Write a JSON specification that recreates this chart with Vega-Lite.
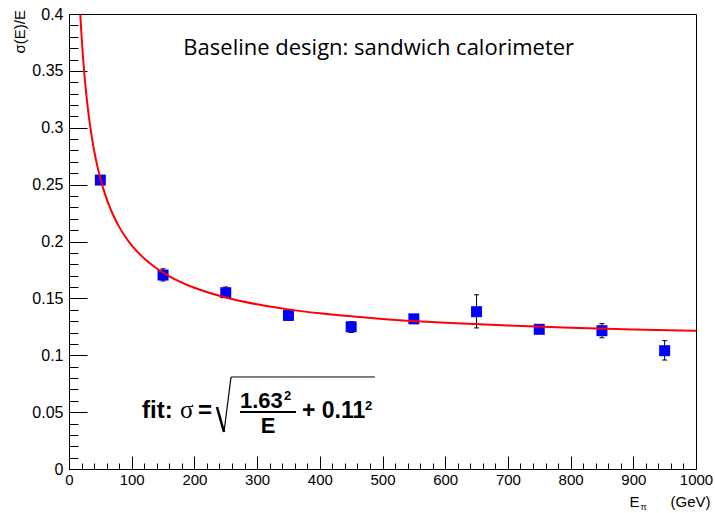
{
  "$schema": "https://vega.github.io/schema/vega-lite/v6.json",
  "width": 627,
  "height": 455,
  "autosize": "none",
  "padding": {"left": 69, "top": 14, "right": 19, "bottom": 44},
  "background": "white",
  "config": {"view": {"stroke": "black", "strokeWidth": 1}},
  "datasets": {
    "pts": [
      {"E": 50, "s": 0.254, "lo": 0.251, "hi": 0.257},
      {"E": 150, "s": 0.1705, "lo": 0.1653, "hi": 0.176},
      {"E": 250, "s": 0.155, "lo": 0.151, "hi": 0.160},
      {"E": 350, "s": 0.135, "lo": 0.131, "hi": 0.138},
      {"E": 450, "s": 0.125, "lo": 0.12, "hi": 0.1295},
      {"E": 550, "s": 0.132, "lo": 0.129, "hi": 0.135},
      {"E": 650, "s": 0.1383, "lo": 0.124, "hi": 0.1532},
      {"E": 750, "s": 0.1228, "lo": 0.120, "hi": 0.1255},
      {"E": 850, "s": 0.1216, "lo": 0.1154, "hi": 0.1278},
      {"E": 950, "s": 0.104, "lo": 0.0958, "hi": 0.1128}
    ],
    "fit": [
      {"E": 18, "f": 0.39963}, {"E": 20, "f": 0.38072}, {"E": 22, "f": 0.36451},
      {"E": 25, "f": 0.34406}, {"E": 28, "f": 0.32709}, {"E": 32, "f": 0.30843},
      {"E": 36, "f": 0.29309}, {"E": 40, "f": 0.28022}, {"E": 45, "f": 0.26673},
      {"E": 50, "f": 0.25542}, {"E": 60, "f": 0.23745}, {"E": 70, "f": 0.22373},
      {"E": 80, "f": 0.21286}, {"E": 90, "f": 0.20401}, {"E": 100, "f": 0.19665},
      {"E": 120, "f": 0.18504}, {"E": 140, "f": 0.17629}, {"E": 160, "f": 0.16943},
      {"E": 180, "f": 0.16389}, {"E": 200, "f": 0.15933}, {"E": 250, "f": 0.15076},
      {"E": 300, "f": 0.14476}, {"E": 350, "f": 0.14033}, {"E": 400, "f": 0.13690},
      {"E": 450, "f": 0.13418}, {"E": 500, "f": 0.13196}, {"E": 600, "f": 0.12856},
      {"E": 700, "f": 0.12608}, {"E": 800, "f": 0.12418}, {"E": 900, "f": 0.12269},
      {"E": 1000, "f": 0.12148}
    ],
    "one": [{}]
  },
  "resolve": {"axis": {"x": "independent", "y": "independent"}},
  "layer": [
    {
      "data": {"name": "pts"},
      "mark": {"type": "rule", "color": "black", "strokeWidth": 1},
      "encoding": {
        "x": {"field": "E", "type": "quantitative",
          "scale": {"domain": [0, 1000], "nice": false, "zero": false},
          "axis": {"orient": "bottom", "values": [0,100,200,300,400,500,600,700,800,900,1000],
            "domain": false, "grid": false, "ticks": true, "tickSize": -13, "tickColor": "black", "tickWidth": 1,
            "labels": true, "labelFont": "Liberation Sans", "labelFontSize": 15, "labelColor": "black",
            "labelPadding": 16, "labelFlush": false, "labelOverlap": false, "format": "d",
            "title": "(GeV)", "titleFont": "Liberation Sans", "titleFontSize": 15, "titleFontWeight": "normal",
            "titleColor": "black", "titleAlign": "right", "titleAnchor": null, "titleX": 641, "titleY": 37, "titleBaseline": "alphabetic"}},
        "y": {"field": "lo", "type": "quantitative",
          "scale": {"domain": [0, 0.4], "nice": false, "zero": false},
          "axis": {"orient": "left", "values": [0,0.05,0.1,0.15,0.2,0.25,0.3,0.35,0.4],
            "domain": false, "grid": false, "ticks": true, "tickSize": -18, "tickColor": "black", "tickWidth": 1,
            "labels": true, "labelFont": "Liberation Sans", "labelFontSize": 16, "labelColor": "black",
            "labelPadding": 24, "labelFlush": false, "labelOverlap": false, "format": "~g",
            "title": null}},
        "y2": {"field": "hi"}
      }
    },
    {
      "data": {"name": "pts"},
      "mark": {"type": "point", "shape": "M-1,0L1,0", "size": 25, "filled": false, "stroke": "black", "strokeWidth": 1, "opacity": 1},
      "encoding": {
        "x": {"field": "E", "type": "quantitative", "axis": null},
        "y": {"field": "lo", "type": "quantitative", "axis": null}
      }
    },
    {
      "data": {"name": "pts"},
      "mark": {"type": "point", "shape": "M-1,0L1,0", "size": 25, "filled": false, "stroke": "black", "strokeWidth": 1, "opacity": 1},
      "encoding": {
        "x": {"field": "E", "type": "quantitative", "axis": null},
        "y": {"field": "hi", "type": "quantitative", "axis": null}
      }
    },
    {
      "data": {"name": "pts"},
      "mark": {"type": "square", "size": 121, "color": "#0000ff", "opacity": 1},
      "encoding": {
        "x": {"field": "E", "type": "quantitative",
          "axis": {"orient": "bottom", "values": [0,20,40,60,80,100,120,140,160,180,200,220,240,260,280,300,320,340,360,380,400,420,440,460,480,500,520,540,560,580,600,620,640,660,680,700,720,740,760,780,800,820,840,860,880,900,920,940,960,980,1000],
            "domain": false, "grid": false, "ticks": true, "tickSize": -6, "tickColor": "black", "tickWidth": 1,
            "labels": false,
            "title": "E", "titleFont": "Liberation Sans", "titleFontSize": 15, "titleFontWeight": "normal",
            "titleColor": "black", "titleAlign": "right", "titleAnchor": null, "titleX": 570, "titleY": 37, "titleBaseline": "alphabetic"}},
        "y": {"field": "s", "type": "quantitative",
          "axis": {"orient": "left", "values": [0,0.01,0.02,0.03,0.04,0.05,0.06,0.07,0.08,0.09,0.1,0.11,0.12,0.13,0.14,0.15,0.16,0.17,0.18,0.19,0.2,0.21,0.22,0.23,0.24,0.25,0.26,0.27,0.28,0.29,0.3,0.31,0.32,0.33,0.34,0.35,0.36,0.37,0.38,0.39,0.4],
            "domain": false, "grid": false, "ticks": true, "tickSize": -9, "tickColor": "black", "tickWidth": 1,
            "labels": false, "title": null}}
      }
    },
    {
      "data": {"name": "fit"},
      "mark": {"type": "line", "color": "#ff0000", "strokeWidth": 2, "interpolate": "monotone"},
      "encoding": {
        "x": {"field": "E", "type": "quantitative",
          "axis": {"orient": "bottom", "domain": false, "grid": false, "ticks": false, "labels": false,
            "title": "π", "titleFont": "Liberation Sans", "titleFontSize": 9, "titleFontWeight": "normal",
            "titleColor": "black", "titleAlign": "left", "titleAnchor": null, "titleX": 571, "titleY": 40, "titleBaseline": "alphabetic"}},
        "y": {"field": "f", "type": "quantitative", "axis": null}
      }
    },
    {
      "data": {"name": "one"},
      "mark": {"type": "text", "font": "Liberation Sans", "fontSize": 15, "angle": 270, "align": "right", "baseline": "alphabetic", "color": "black"},
      "encoding": {
        "x": {"datum": -70.2, "type": "quantitative", "axis": null},
        "y": {"datum": 0.4035, "type": "quantitative", "axis": null},
        "text": {"value": "σ(E)/E"}
      }
    },
    {
      "data": {"name": "one"},
      "mark": {"type": "text", "font": "Open Sans", "fontSize": 22, "align": "center", "baseline": "alphabetic", "color": "black"},
      "encoding": {
        "x": {"datum": 494, "type": "quantitative", "axis": null},
        "y": {"datum": 0.364, "type": "quantitative", "axis": null},
        "text": {"value": "Baseline design: sandwich calorimeter"}
      }
    },
    {
      "data": {"name": "one"},
      "mark": {"type": "text", "font": "Liberation Sans", "fontWeight": "bold", "fontSize": 24, "align": "left", "baseline": "alphabetic", "color": "black"},
      "encoding": {
        "x": {"datum": 116.4, "type": "quantitative", "axis": null},
        "y": {"datum": 0.0448, "type": "quantitative", "axis": null},
        "text": {"value": "fit:"}
      }
    },
    {
      "data": {"name": "one"},
      "mark": {"type": "text", "font": "Liberation Serif", "fontSize": 25, "align": "left", "baseline": "alphabetic", "color": "black"},
      "encoding": {
        "x": {"datum": 177, "type": "quantitative", "axis": null},
        "y": {"datum": 0.0448, "type": "quantitative", "axis": null},
        "text": {"value": "σ"}
      }
    },
    {
      "data": {"name": "one"},
      "mark": {"type": "text", "font": "Liberation Sans", "fontWeight": "bold", "fontSize": 24, "align": "left", "baseline": "alphabetic", "color": "black"},
      "encoding": {
        "x": {"datum": 205.7, "type": "quantitative", "axis": null},
        "y": {"datum": 0.0448, "type": "quantitative", "axis": null},
        "text": {"value": "="}
      }
    },
    {
      "data": {"name": "one"},
      "mark": {"type": "rule", "color": "black", "strokeWidth": 2.5},
      "encoding": {
        "x": {"datum": 236, "type": "quantitative", "axis": null},
        "y": {"datum": 0.0545, "type": "quantitative", "axis": null},
        "x2": {"datum": 247.2},
        "y2": {"datum": 0.0325}
      }
    },
    {
      "data": {"name": "one"},
      "mark": {"type": "rule", "color": "black", "strokeWidth": 1.2},
      "encoding": {
        "x": {"datum": 247.2, "type": "quantitative", "axis": null},
        "y": {"datum": 0.0325, "type": "quantitative", "axis": null},
        "x2": {"datum": 258.4},
        "y2": {"datum": 0.0809}
      }
    },
    {
      "data": {"name": "one"},
      "mark": {"type": "rule", "color": "black", "strokeWidth": 1},
      "encoding": {
        "x": {"datum": 258.4, "type": "quantitative", "axis": null},
        "y": {"datum": 0.0809, "type": "quantitative", "axis": null},
        "x2": {"datum": 488},
        "y2": {"datum": 0.0809}
      }
    },
    {
      "data": {"name": "one"},
      "mark": {"type": "rule", "color": "black", "strokeWidth": 2},
      "encoding": {
        "x": {"datum": 272.7, "type": "quantitative", "axis": null},
        "y": {"datum": 0.0501, "type": "quantitative", "axis": null},
        "x2": {"datum": 362},
        "y2": {"datum": 0.0501}
      }
    },
    {
      "data": {"name": "one"},
      "mark": {"type": "text", "font": "Liberation Sans", "fontWeight": "bold", "fontSize": 22, "align": "left", "baseline": "alphabetic", "color": "black"},
      "encoding": {
        "x": {"datum": 272.7, "type": "quantitative", "axis": null},
        "y": {"datum": 0.0536, "type": "quantitative", "axis": null},
        "text": {"value": "1.63"}
      }
    },
    {
      "data": {"name": "one"},
      "mark": {"type": "text", "font": "Liberation Sans", "fontWeight": "bold", "fontSize": 13, "align": "left", "baseline": "alphabetic", "color": "black"},
      "encoding": {
        "x": {"datum": 342.9, "type": "quantitative", "axis": null},
        "y": {"datum": 0.0607, "type": "quantitative", "axis": null},
        "text": {"value": "2"}
      }
    },
    {
      "data": {"name": "one"},
      "mark": {"type": "text", "font": "Liberation Sans", "fontWeight": "bold", "fontSize": 22, "align": "center", "baseline": "alphabetic", "color": "black"},
      "encoding": {
        "x": {"datum": 317.4, "type": "quantitative", "axis": null},
        "y": {"datum": 0.0316, "type": "quantitative", "axis": null},
        "text": {"value": "E"}
      }
    },
    {
      "data": {"name": "one"},
      "mark": {"type": "text", "font": "Liberation Sans", "fontWeight": "bold", "fontSize": 23, "align": "left", "baseline": "alphabetic", "color": "black"},
      "encoding": {
        "x": {"datum": 371.6, "type": "quantitative", "axis": null},
        "y": {"datum": 0.0448, "type": "quantitative", "axis": null},
        "text": {"value": "+ 0.11"}
      }
    },
    {
      "data": {"name": "one"},
      "mark": {"type": "text", "font": "Liberation Sans", "fontWeight": "bold", "fontSize": 13, "align": "left", "baseline": "alphabetic", "color": "black"},
      "encoding": {
        "x": {"datum": 472, "type": "quantitative", "axis": null},
        "y": {"datum": 0.0519, "type": "quantitative", "axis": null},
        "text": {"value": "2"}
      }
    }
  ]
}
